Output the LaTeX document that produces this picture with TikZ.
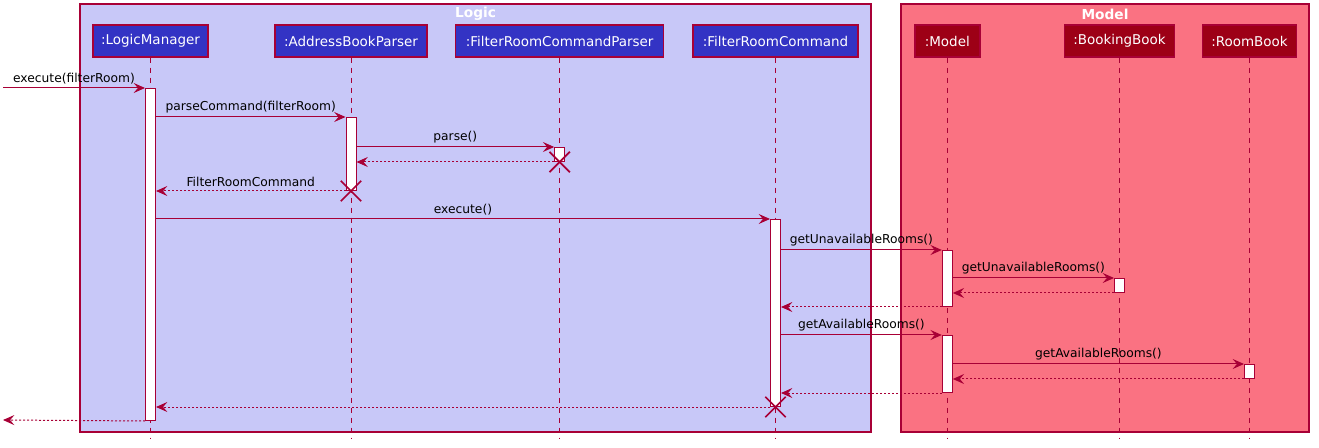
\documentclass[tikz,border=0pt]{standalone}
\usepackage{fontspec}
\setmainfont{DejaVu Sans}
\usetikzlibrary{arrows.meta,positioning,shapes.misc}
\definecolor{umlRed}{HTML}{A80036}
\definecolor{logicBg}{HTML}{C8C8F8}
\definecolor{logicBox}{HTML}{3333C4}
\definecolor{modelBg}{HTML}{FA7282}
\definecolor{modelBox}{HTML}{9D0016}

\begin{document}
\begin{tikzpicture}[
    x=0.75pt, y=-0.75pt,
    every node/.style={font=\fontsize{9.2}{11}\selectfont},
    group/.style={draw=umlRed, line width=0.8pt},
    grouptitle/.style={font=\fontsize{10.3}{12}\selectfont\bfseries, text=white, inner sep=0pt},
    participant/.style={draw=umlRed, line width=1.1pt, text=white, minimum height=24pt,
      inner sep=0pt, font=\fontsize{10.1}{12}\selectfont},
    lifeline/.style={umlRed, line width=0.75pt, dash pattern=on 3.75pt off 3.75pt},
    act/.style={draw=umlRed, fill=white, line width=0.75pt, minimum width=7.5pt, inner sep=0pt, anchor=north},
    msg/.style={umlRed, line width=0.75pt, -{Stealth[length=8.5pt, width=7.5pt, inset=3.2pt]}},
    reply/.style={msg, dash pattern=on 1.5pt off 1.5pt},
    destroy/.style={draw=umlRed, line width=1.3pt, cross out, minimum size=14pt, inner sep=0pt},
    lbl/.style={midway, above=2.5pt, inner sep=0pt, text=black},
  ]
  \useasboundingbox (0,0) rectangle (1319,448);

  % Groups
  \draw[group, fill=logicBg] (80,4) rectangle (871,432);
  \draw[group, fill=modelBg] (901,4) rectangle (1309,432);
  \node[grouptitle] (tLogic) at (475.5,14) {Logic};
  \node[grouptitle] (tModel) at (1105,14) {Model};

  % Participants
  \node[participant, fill=logicBox, minimum width=86.25pt] (pLM) at (150.5,41) {:LogicManager};
  \node[participant, fill=logicBox, minimum width=114pt] (pABP) at (351,41) {:AddressBookParser};
  \node[participant, fill=logicBox, minimum width=156pt] (pFRCP) at (559.7,41) {:FilterRoomCommandParser};
  \node[participant, fill=logicBox, minimum width=123.75pt] (pFRC) at (775.5,41) {:FilterRoomCommand};
  \node[participant, fill=modelBox, minimum width=48.75pt] (pM) at (947.3,41) {:Model};
  \node[participant, fill=modelBox, minimum width=82.5pt] (pBB) at (1119.5,41) {:BookingBook};
  \node[participant, fill=modelBox, minimum width=70.5pt] (pRB) at (1249.5,41) {:RoomBook};

  % Lifelines
  \coordinate (bottom) at (0,438);
  \foreach \p in {pLM,pABP,pFRCP,pFRC,pM,pBB,pRB}
    \draw[lifeline] (\p.south) -- (\p.south |- bottom);

  % Activations
  \node[act, minimum height=249pt] (aLM) at (pLM |- 0,88) {};
  \node[act, minimum height=54.75pt] (aABP) at (pABP |- 0,117) {};
  \node[act, minimum height=10.5pt] (aFRCP) at (pFRCP |- 0,147) {};
  \node[act, minimum height=140.25pt] (aFRC) at (pFRC |- 0,219) {};
  \node[act, minimum height=42pt] (aM1) at (pM |- 0,250) {};
  \node[act, minimum height=10.5pt] (aBB) at (pBB |- 0,278) {};
  \node[act, minimum height=42.75pt] (aM2) at (pM |- 0,335) {};
  \node[act, minimum height=10.5pt] (aRB) at (pRB |- 0,364) {};

  % Messages
  \coordinate (entry) at (3,88);
  \coordinate (exit) at (3,420);
  \draw[msg] (entry) -- (aLM.north west) node[lbl] {execute(filterRoom)};
  \draw[msg] (aLM.east |- aABP.north) -- (aABP.north west) node[lbl] {parseCommand(filterRoom)};
  \draw[msg] (aABP.east |- aFRCP.north) -- (aFRCP.north west) node[lbl] {parse()};
  \draw[reply] (aFRCP.south west) -- (aABP.east |- aFRCP.south);
  \draw[reply] (aABP.south west) -- (aLM.east |- aABP.south) node[lbl] {FilterRoomCommand};
  \draw[msg] (aLM.east |- aFRC.north) -- (aFRC.north west) node[lbl] {execute()};
  \draw[msg] (aFRC.east |- aM1.north) -- (aM1.north west) node[lbl] {getUnavailableRooms()};
  \draw[msg] (aM1.east |- aBB.north) -- (aBB.north west) node[lbl] {getUnavailableRooms()};
  \draw[reply] (aBB.south west) -- (aM1.east |- aBB.south);
  \draw[reply] (aM1.south west) -- (aFRC.east |- aM1.south);
  \draw[msg] (aFRC.east |- aM2.north) -- (aM2.north west) node[lbl] {getAvailableRooms()};
  \draw[msg] (aM2.east |- aRB.north) -- (aRB.north west) node[lbl] {getAvailableRooms()};
  \draw[reply] (aRB.south west) -- (aM2.east |- aRB.south);
  \draw[reply] (aM2.south west) -- (aFRC.east |- aM2.south);
  \draw[reply] (aFRC.south west) -- (aLM.east |- aFRC.south);
  \draw[reply] (aLM.south west) -- (exit);

  % Destroyed objects
  \node[destroy] (xFRCP) at (aFRCP.south) {};
  \node[destroy] (xABP) at (aABP.south) {};
  \node[destroy] (xFRC) at (aFRC.south) {};
\end{tikzpicture}
\end{document}
